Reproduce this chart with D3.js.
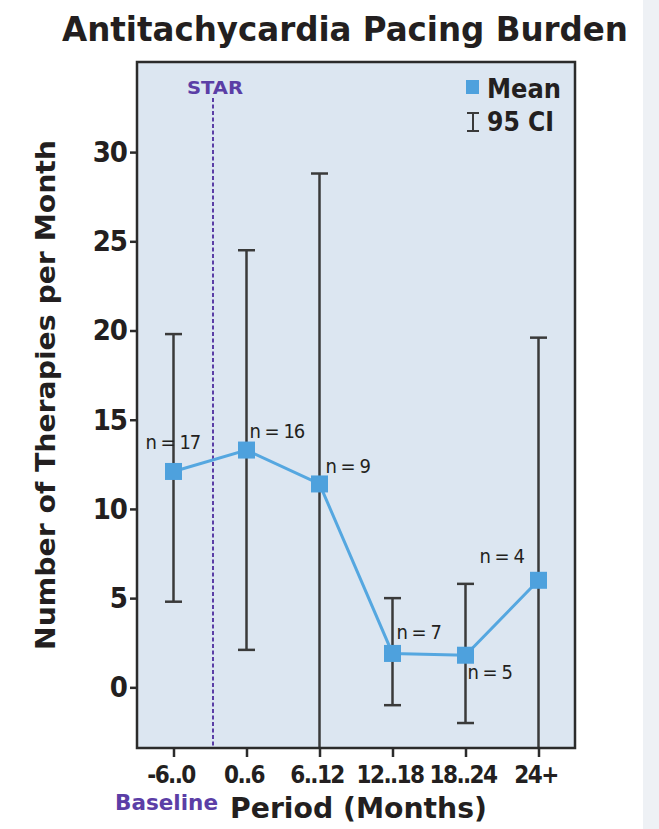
<!DOCTYPE html>
<html>
<head>
<meta charset="utf-8">
<script src="https://cdn.jsdelivr.net/npm/d3@7"></script>
<style>
  html, body { margin: 0; padding: 0; background: #ffffff; }
  svg { display: block; }
  text { font-family: "DejaVu Sans Condensed", "DejaVu Sans", sans-serif; font-stretch: condensed; }
</style>
</head>
<body>
<svg id="chart" width="659" height="829"></svg>
<script>
// Periods (months relative to STAR procedure)
const periods = ["-6..0", "0..6", "6..12", "12..18", "18..24", "24+"];
// Mean therapies per month for each period
const means = [12.1, 13.3, 11.4, 1.9, 1.8, 6.0];
// 95% confidence interval bounds
const ciLow = [4.8, 2.1, -6.0, -1.0, -2.0, -6.0];
const ciHigh = [19.8, 24.5, 28.8, 5.0, 5.8, 19.6];
// Patients per period
const counts = [17, 16, 9, 7, 5, 4];
const yTicks = [0, 5, 10, 15, 20, 25, 30];

const svg = d3.select("#chart");
const box = { left: 137, top: 62, right: 575, bottom: 748 };
const ink = "#231f20";
const purple = "#5b3ea6";

// light strip along the right edge of the page
svg.append("rect").attr("x", 643).attr("y", 0).attr("width", 16).attr("height", 829).attr("fill", "#eef1f5");

const x = d3.scalePoint().domain(periods).range([box.left, box.right]).padding(0.5);
const y = d3.scaleLinear().domain([-3.4, 35.05]).range([box.bottom, box.top]);

// title
svg.append("text")
  .attr("x", 62).attr("y", 41)
  .attr("textLength", 566).attr("lengthAdjust", "spacingAndGlyphs")
  .attr("font-size", 34).attr("font-weight", 700).attr("fill", ink)
  .text("Antitachycardia Pacing Burden");

// plot panel
svg.append("rect")
  .attr("x", box.left).attr("y", box.top)
  .attr("width", box.right - box.left).attr("height", box.bottom - box.top)
  .attr("fill", "#dce6f1");

svg.append("clipPath").attr("id", "plotclip").append("rect")
  .attr("x", box.left).attr("y", box.top)
  .attr("width", box.right - box.left).attr("height", box.bottom - box.top);

const plot = svg.append("g").attr("clip-path", "url(#plotclip)");

// STAR marker between baseline and first follow-up period
const starX = (x(periods[0]) + x(periods[1])) / 2 + 3;
plot.append("line")
  .attr("x1", starX).attr("x2", starX)
  .attr("y1", 98).attr("y2", box.bottom)
  .attr("stroke", purple).attr("stroke-width", 2)
  .attr("stroke-dasharray", "4,2.5");
svg.append("text")
  .attr("x", starX + 2).attr("y", 94)
  .attr("text-anchor", "middle")
  .attr("font-size", 18).attr("font-weight", 700).attr("fill", purple)
  .attr("textLength", 56).attr("lengthAdjust", "spacingAndGlyphs")
  .text("STAR");

// error bars
const capW = 8.5;
const err = plot.selectAll("g.err").data(periods).join("g").attr("class", "err");
err.append("line")
  .attr("x1", d => x(d)).attr("x2", d => x(d))
  .attr("y1", (d, i) => y(ciLow[i])).attr("y2", (d, i) => y(ciHigh[i]))
  .attr("stroke", "#3a3a3a").attr("stroke-width", 2.5);
err.append("line")
  .attr("x1", d => x(d) - capW).attr("x2", d => x(d) + capW)
  .attr("y1", (d, i) => y(ciHigh[i])).attr("y2", (d, i) => y(ciHigh[i]))
  .attr("stroke", "#3a3a3a").attr("stroke-width", 2.5);
err.append("line")
  .attr("x1", d => x(d) - capW).attr("x2", d => x(d) + capW)
  .attr("y1", (d, i) => y(ciLow[i])).attr("y2", (d, i) => y(ciLow[i]))
  .attr("stroke", "#3a3a3a").attr("stroke-width", 2.5);

// mean line and markers
const line = d3.line().x((d, i) => x(periods[i])).y(d => y(d));
plot.append("path").datum(means)
  .attr("d", line).attr("fill", "none")
  .attr("stroke", "#55a7e0").attr("stroke-width", 3);
const ms = 17;
plot.selectAll("rect.mean").data(means).join("rect").attr("class", "mean")
  .attr("x", (d, i) => x(periods[i]) - ms / 2)
  .attr("y", d => y(d) - ms / 2)
  .attr("width", ms).attr("height", ms)
  .attr("fill", "#4ea1dd");

// n labels
const nOffsets = [[-28, -22], [3, -12], [6, -11], [4, -14], [2, 24], [-59, -17]];
svg.selectAll("text.n").data(counts).join("text").attr("class", "n")
  .attr("x", (d, i) => x(periods[i]) + nOffsets[i][0])
  .attr("y", (d, i) => y(means[i]) + nOffsets[i][1])
  .attr("font-size", 20).attr("font-weight", 400).attr("fill", ink)
  .attr("letter-spacing", -1)
  .text(d => "n = " + d);

// panel border
svg.append("rect")
  .attr("x", box.left).attr("y", box.top)
  .attr("width", box.right - box.left).attr("height", box.bottom - box.top)
  .attr("fill", "none").attr("stroke", "#2b2b2b").attr("stroke-width", 2.5);

// y axis
const yAxis = svg.append("g").attr("transform", `translate(${box.left},0)`)
  .call(d3.axisLeft(y).tickValues(yTicks).tickSize(7).tickPadding(3));
yAxis.select(".domain").remove();
yAxis.selectAll(".tick line").attr("stroke", "#2b2b2b").attr("stroke-width", 2.5);
yAxis.selectAll(".tick text")
  .attr("font-size", 29).attr("font-weight", 700).attr("fill", ink)
  .attr("font-family", "'DejaVu Sans Condensed', 'DejaVu Sans', sans-serif")
  .attr("letter-spacing", -1);

// x axis
const xAxis = svg.append("g").attr("transform", `translate(0,${box.bottom})`)
  .call(d3.axisBottom(x).tickSize(9).tickPadding(9));
xAxis.select(".domain").remove();
xAxis.selectAll(".tick line").attr("stroke", "#2b2b2b").attr("stroke-width", 2.5);
xAxis.selectAll(".tick text")
  .attr("font-size", 24).attr("font-weight", 700).attr("fill", ink)
  .attr("font-family", "'DejaVu Sans Condensed', 'DejaVu Sans', sans-serif")
  .attr("letter-spacing", -1.6)
  .attr("dx", -3);

// axis titles
svg.append("text")
  .attr("transform", "translate(55,395) rotate(-90)")
  .attr("text-anchor", "middle")
  .attr("font-size", 27).attr("font-weight", 700).attr("fill", ink)
  .attr("textLength", 510).attr("lengthAdjust", "spacingAndGlyphs")
  .text("Number of Therapies per Month");
svg.append("text")
  .attr("x", 230).attr("y", 818)
  .attr("font-size", 29).attr("font-weight", 700).attr("fill", ink)
  .attr("textLength", 257).attr("lengthAdjust", "spacingAndGlyphs")
  .text("Period (Months)");
svg.append("text")
  .attr("x", 115).attr("y", 810)
  .attr("font-size", 21).attr("font-weight", 700).attr("fill", purple)
  .attr("textLength", 103).attr("lengthAdjust", "spacingAndGlyphs")
  .text("Baseline");

// legend
const lg = svg.append("g").attr("transform", "translate(466,80)");
lg.append("rect").attr("x", 0).attr("y", 0).attr("width", 13).attr("height", 14).attr("fill", "#4ea1dd");
lg.append("text").attr("x", 21).attr("y", 18)
  .attr("font-size", 27).attr("font-weight", 700).attr("fill", ink)
  .attr("textLength", 74).attr("lengthAdjust", "spacingAndGlyphs")
  .text("Mean");
lg.append("line").attr("x1", 7).attr("x2", 7).attr("y1", 33).attr("y2", 51).attr("stroke", "#3a3a3a").attr("stroke-width", 2);
lg.append("line").attr("x1", 1).attr("x2", 13).attr("y1", 33).attr("y2", 33).attr("stroke", "#3a3a3a").attr("stroke-width", 2);
lg.append("line").attr("x1", 1).attr("x2", 13).attr("y1", 51).attr("y2", 51).attr("stroke", "#3a3a3a").attr("stroke-width", 2);
lg.append("text").attr("x", 21).attr("y", 51)
  .attr("font-size", 26).attr("font-weight", 700).attr("fill", ink)
  .attr("textLength", 67).attr("lengthAdjust", "spacingAndGlyphs")
  .text("95 CI");
</script>
</body>
</html>
